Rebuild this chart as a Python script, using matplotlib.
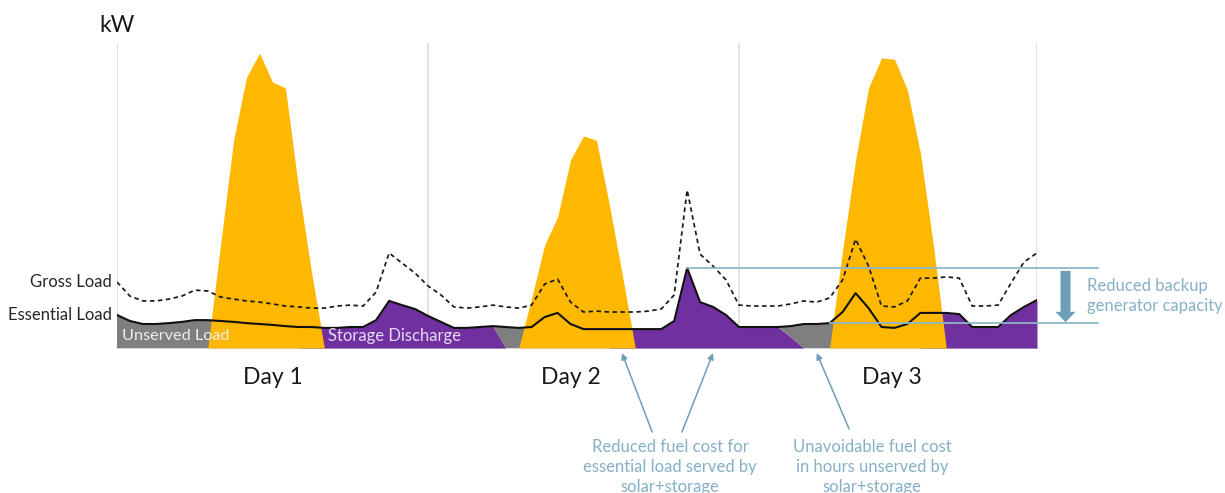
import matplotlib
matplotlib.use("Agg")
import matplotlib.pyplot as plt
import numpy as np

plt.rcParams['font.family'] = ['Lato', 'DejaVu Sans']

# ---- data (kW per hour, three days) ----
hours = np.arange(72)
day_labels = ["Day 1", "Day 2", "Day 3"]
day_label_x = [12.0, 35.0, 59.8]
day_bounds = [0, 24, 48, 71]

gross_load = [
    22.0, 17.3, 15.7, 15.7, 16.3, 17.3, 19.3, 19.0, 17.0, 16.3, 15.7, 15.3,
    14.7, 14.0, 13.7, 13.3, 13.3, 14.0, 14.3, 14.0, 18.7, 31.7, 28.3, 25.0,
    20.7, 17.7, 13.7, 13.3, 13.7, 14.3, 13.7, 13.3, 14.3, 21.3, 23.0, 15.3,
    12.0, 12.3, 12.0, 12.0, 12.0, 12.3, 13.0, 17.7, 52.7, 31.3, 27.3, 22.7,
    14.3, 14.0, 14.0, 14.0, 14.7, 15.7, 15.3, 16.7, 22.7, 36.3, 27.3, 14.0,
    13.7, 15.7, 23.3, 23.3, 23.7, 23.3, 14.0, 14.0, 14.3, 21.7, 28.7, 31.7,
]

essential_load = [
    11.0, 9.0, 8.0, 8.0, 8.3, 8.7, 9.3, 9.3, 9.0, 8.7, 8.3, 8.0,
    7.7, 7.3, 7.0, 7.0, 6.7, 6.7, 7.0, 7.0, 9.3, 15.7, 14.3, 13.0,
    10.7, 8.7, 6.7, 6.7, 7.0, 7.3, 7.0, 6.7, 7.0, 10.3, 11.7, 8.0,
    6.3, 6.3, 6.3, 6.3, 6.3, 6.3, 6.3, 9.0, 26.7, 15.3, 13.7, 11.0,
    7.0, 7.0, 7.0, 7.0, 7.3, 8.0, 8.0, 8.3, 12.0, 18.3, 13.3, 7.0,
    6.7, 8.0, 11.7, 11.7, 11.7, 11.3, 7.0, 7.0, 7.0, 11.0, 13.7, 16.0,
]

solar = [
    0, 0, 0, 0, 0, 0, 0, 0, 34.7, 69.3, 90.3, 98.3,
    88.7, 86.7, 53.7, 25.7, 0, 0, 0, 0, 0, 0, 0, 0,
    0, 0, 0, 0, 0, 0, 0, 0, 16.7, 34.3, 43.7, 62.7,
    70.7, 69.3, 47.7, 24.3, 0, 0, 0, 0, 0, 0, 0, 0,
    0, 0, 0, 0, 0, 0, 0, 0, 32.7, 62.7, 86.7, 96.7,
    96.3, 86.0, 65.0, 34.3, 0, 0, 0, 0, 0, 0, 0, 0,
]

storage_discharge = [
    0, 0, 0, 0, 0, 0, 0, 0, 0, 0, 0, 0,
    0, 0, 0, 7.0, 6.7, 6.7, 7.0, 7.0, 9.3, 15.7, 14.3, 13.0,
    10.7, 8.7, 6.7, 6.7, 7.0, 7.3, 0, 0, 0, 0, 0, 0,
    0, 0, 0, 6.3, 6.3, 6.3, 6.3, 9.0, 26.7, 15.3, 13.7, 11.0,
    7.0, 7.0, 7.0, 7.0, 3.7, 0, 0, 0, 0, 0, 0, 0,
    0, 0, 0, 11.7, 11.7, 11.3, 7.0, 7.0, 7.0, 11.0, 13.7, 16.0,
]

# ---- colours ----
C_SOLAR = "#FFB800"
C_STORAGE = "#7030A0"
C_UNSERVED = "#7F7F7F"
C_GRID = "#D9D9D9"
C_NOTE_LINE = "#8DB6CA"
C_NOTE_ARROW = "#6C9FB6"
C_NOTE_TEXT = "#86B0C6"

fig = plt.figure(figsize=(12.25, 4.93), dpi=100)
ax = fig.add_axes([117 / 1225, (493 - 348) / 493, (1037 - 117) / 1225, (348 - 43) / 493])
ax.set_xlim(0, 71)
ax.set_ylim(0, 101.7)
ax.axis("off")

ess = np.array(essential_load)
sto = np.array(storage_discharge)

# day separators and baseline
ax.vlines(day_bounds, 0, 101.7, color=C_GRID, lw=1.1, zorder=0)
ax.plot([0, 71], [0, 0], color=C_GRID, lw=1.3, zorder=0, clip_on=False)

# stacked supply areas under the essential load
ax.fill_between(hours, 0, sto, color=C_STORAGE, lw=0, zorder=1)
ax.fill_between(hours, sto, ess, where=ess > sto, interpolate=True,
                color=C_UNSERVED, lw=0, zorder=1)
ax.fill_between(hours, 0, solar, color=C_SOLAR, lw=0, zorder=2)

# load profiles
ax.plot(hours, gross_load, color="#1A1A1A", lw=1.25, dashes=(2.6, 2.0), zorder=3)
ax.plot(hours, essential_load, color="#111111", lw=1.5, zorder=3)

# series labels
ax.text(-0.4, gross_load[0], "Gross Load", ha="right", va="center",
        fontsize=12, color="#262626")
ax.text(-0.4, essential_load[0], "Essential Load", ha="right", va="center",
        fontsize=12, color="#262626")
ax.text(0.4, 4.0, "Unserved Load", ha="left", va="center",
        fontsize=11.7, color="#EDEDED", zorder=5)
ax.text(16.3, 4.0, "Storage Discharge", ha="left", va="center",
        fontsize=12, color="#E6DAF2", zorder=5)
ax.text(0, 107.7, "kW", ha="center", va="center", fontsize=16.5,
        color="#1A1A1A", clip_on=False)

for lx, lab in zip(day_label_x, day_labels):
    ax.text(lx, -10, lab, ha="center", va="center", fontsize=16.5,
            color="#1A1A1A", clip_on=False)

# backup generator capacity bracket
peak_h = int(np.argmax(ess))
ax.plot([peak_h, 75.7], [ess[peak_h], ess[peak_h]], color=C_NOTE_LINE,
        lw=1.3, clip_on=False, zorder=4)
ax.plot([55, 75.7], [ess[55], ess[55]], color=C_NOTE_LINE,
        lw=1.3, clip_on=False, zorder=4)
ax.annotate("", xy=(73.2, ess[55] + 0.3), xytext=(73.2, ess[peak_h] - 1.0),
            arrowprops=dict(arrowstyle="simple,head_length=7.5,head_width=14.5,tail_width=7.2",
                            mutation_scale=1, color=C_NOTE_ARROW, lw=0,
                            shrinkA=0, shrinkB=0),
            annotation_clip=False)
ax.text(74.85, 17.3, "Reduced backup\ngenerator capacity", ha="left",
        va="center", fontsize=12, color=C_NOTE_TEXT, linespacing=1.25,
        clip_on=False)

# fuel cost call-outs
note_arrow = dict(arrowstyle="-|>", color=C_NOTE_ARROW, lw=1.1,
                  mutation_scale=9, shrinkA=0, shrinkB=0)
ax.annotate("", xy=(38.97, -1.7), xytext=(41.3, -28.0),
            arrowprops=note_arrow, annotation_clip=False)
ax.annotate("", xy=(46.0, -1.7), xytext=(43.6, -28.0),
            arrowprops=note_arrow, annotation_clip=False)
ax.annotate("", xy=(54.0, -1.7), xytext=(56.5, -27.0),
            arrowprops=note_arrow, annotation_clip=False)

ax.text(42.68, -30.3, "Reduced fuel cost for\nessential load served by\nsolar+storage",
        ha="center", va="top", fontsize=12, color=C_NOTE_TEXT,
        linespacing=1.32, clip_on=False)
ax.text(58.26, -30.3, "Unavoidable fuel cost\nin hours unserved by\nsolar+storage",
        ha="center", va="top", fontsize=12, color=C_NOTE_TEXT,
        linespacing=1.32, clip_on=False)

fig.savefig("out.png", dpi=100, facecolor="white")
